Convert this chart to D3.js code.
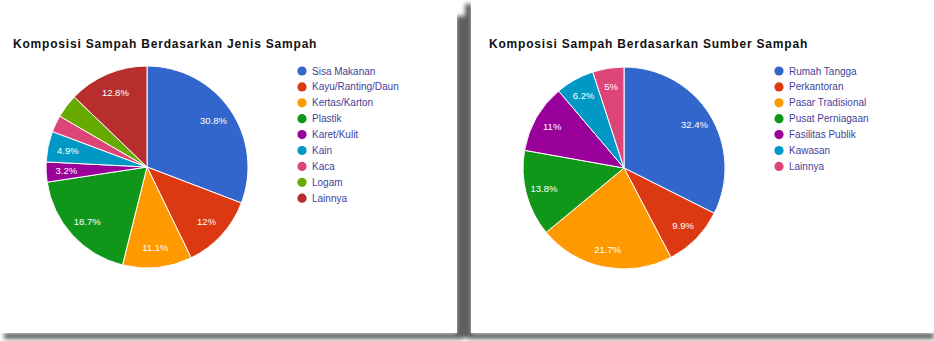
<!DOCTYPE html>
<html>
<head>
<meta charset="utf-8">
<script src="https://cdn.jsdelivr.net/npm/d3@7/dist/d3.min.js"></script>
<style>
  html, body { margin: 0; padding: 0; background: #ffffff; }
  svg { display: block; }
  text { font-family: "Liberation Sans", Arial, sans-serif; }
</style>
</head>
<body>
<svg id="chart" width="934" height="341"></svg>
<script>
// Komposisi sampah berdasarkan jenis (persen)
const jenisLabels = ["Sisa Makanan", "Kayu/Ranting/Daun", "Kertas/Karton", "Plastik",
  "Karet/Kulit", "Kain", "Kaca", "Logam", "Lainnya"];
const jenisValues = [30.8, 12, 11.1, 18.7, 3.2, 4.9, 2.7, 3.8, 12.8];

// Komposisi sampah berdasarkan sumber (persen)
const sumberLabels = ["Rumah Tangga", "Perkantoran", "Pasar Tradisional", "Pusat Perniagaan",
  "Fasilitas Publik", "Kawasan", "Lainnya"];
const sumberValues = [32.4, 9.9, 21.7, 13.8, 11, 6.2, 5];

const titles = ["Komposisi Sampah Berdasarkan Jenis Sampah",
  "Komposisi Sampah Berdasarkan Sumber Sampah"];

const palette = ["#3366cc", "#dc3912", "#ff9900", "#109618", "#990099",
  "#0099c6", "#dd4477", "#66aa00", "#b82e2e"];

const svg = d3.select("#chart");
const defs = svg.append("defs");
const blur = defs.append("filter").attr("id", "soft")
  .attr("x", "-50%").attr("y", "-50%").attr("width", "200%").attr("height", "200%");
blur.append("feGaussianBlur").attr("stdDeviation", 2);

// card shadows
const shadows = svg.append("g").attr("filter", "url(#soft)").attr("fill", "#5f5f5f");
shadows.append("rect").attr("x", 456).attr("y", 16).attr("width", 9).attr("height", 322);
shadows.append("rect").attr("x", 4).attr("y", 333).attr("width", 458).attr("height", 6);
shadows.append("rect").attr("x", 465).attr("y", 4).attr("width", 7).attr("height", 334);
shadows.append("rect").attr("x", 468).attr("y", 333).attr("width", 466).attr("height", 6);

// cards
svg.append("rect").attr("x", 0).attr("y", 0).attr("width", 457).attr("height", 333).attr("fill", "#fff");
svg.append("rect").attr("x", 471).attr("y", 0).attr("width", 462).attr("height", 333).attr("fill", "#fff");

function drawPie(opts) {
  const { labels, values, title, cx, cy, r, titleX, legendX, labelK } = opts;
  const g = svg.append("g");

  g.append("text")
    .attr("x", titleX).attr("y", 48)
    .attr("font-size", 12).attr("font-weight", "bold")
    .attr("letter-spacing", 0.8)
    .attr("fill", "#111")
    .text(title);

  const data = labels.map((l, i) => ({ label: l, value: values[i], i }));
  const pie = d3.pie().value(d => d.value).sort(null);
  const arcs = pie(data);
  const arc = d3.arc().innerRadius(0).outerRadius(r);
  const labelArc = d3.arc().innerRadius(r * labelK).outerRadius(r * labelK);

  const pg = g.append("g").attr("transform", `translate(${cx},${cy})`);
  pg.selectAll("path.slice").data(arcs).join("path")
    .attr("class", "slice")
    .attr("d", arc)
    .attr("fill", d => palette[d.data.i])
    .attr("stroke", "#fff").attr("stroke-width", 1);

  // Only keep a slice label when its text box fits inside the wedge
  const fs = 9.5;
  function fits(d, txt) {
    const [x, y] = labelArc.centroid(d);
    const w = txt.length * fs * 0.55, h = fs;
    const corners = [[x - w / 2, y - h / 2], [x + w / 2, y - h / 2], [x - w / 2, y + h / 2], [x + w / 2, y + h / 2]];
    return corners.every(([px, py]) => {
      let a = Math.atan2(px, -py);
      if (a < 0) a += 2 * Math.PI;
      const dist = Math.hypot(px, py);
      return dist < r - 1 && a > d.startAngle && a < d.endAngle;
    });
  }

  pg.selectAll("text.pct").data(arcs.filter(d => fits(d, d.data.value + "%"))).join("text")
    .attr("class", "pct")
    .attr("transform", d => `translate(${labelArc.centroid(d)})`)
    .attr("text-anchor", "middle").attr("dy", "0.35em")
    .attr("font-size", fs).attr("fill", "#fff")
    .text(d => d.data.value + "%");

  const lg = g.append("g").attr("transform", `translate(${legendX},71)`);
  const rows = lg.selectAll("g").data(data).join("g")
    .attr("transform", (d, i) => `translate(0,${i * 15.9})`);
  rows.append("circle").attr("r", 4.6).attr("fill", d => palette[d.i]);
  rows.append("text").attr("x", 10).attr("dy", "0.35em")
    .attr("font-size", 10).attr("fill", "#3f3f9a")
    .text(d => d.label);
}

drawPie({ labels: jenisLabels, values: jenisValues, title: titles[0],
  cx: 147, cy: 167, r: 101, titleX: 13, legendX: 302, labelK: 0.8 });
drawPie({ labels: sumberLabels, values: sumberValues, title: titles[1],
  cx: 624, cy: 168, r: 101, titleX: 489, legendX: 779, labelK: 0.82 });
</script>
</body>
</html>
